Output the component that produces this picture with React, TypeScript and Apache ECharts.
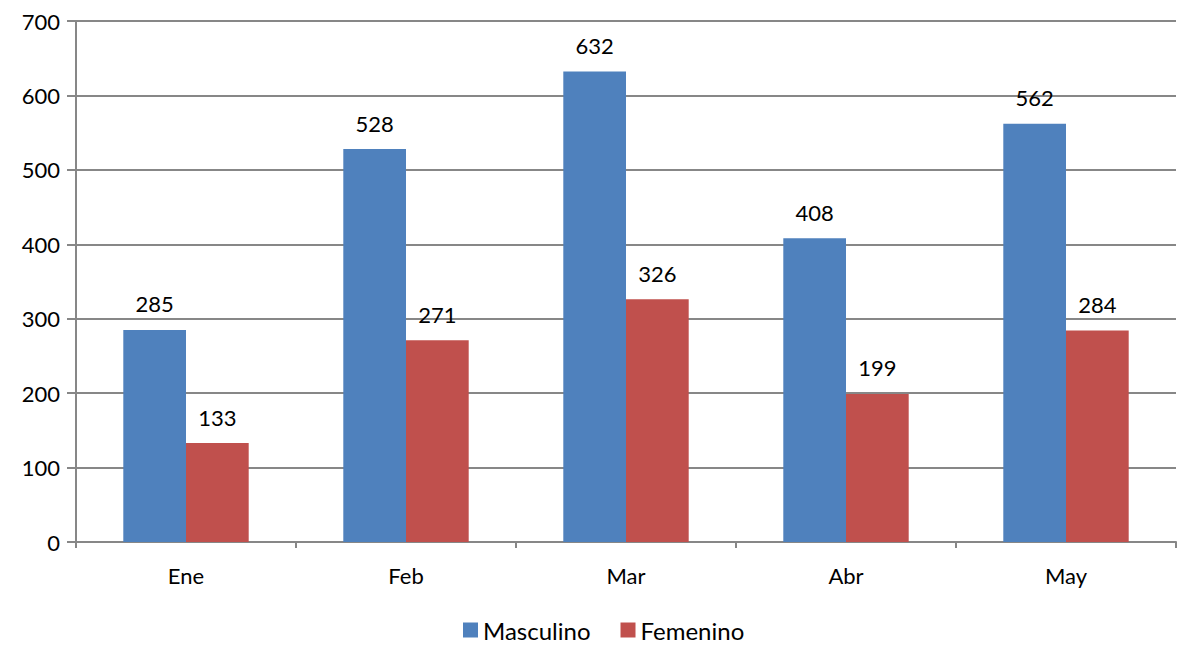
import React, { useEffect, useRef } from "react";
import * as echarts from "echarts";

const categories = ["Ene", "Feb", "Mar", "Abr", "May"];
const masculino = [285, 528, 632, 408, 562];
const femenino = [133, 271, 326, 199, 284];
const seriesNames = ["Masculino", "Femenino"];

export default function App() {
  const ref = useRef<HTMLDivElement>(null);
  useEffect(() => {
    if (!ref.current) return;
    const chart = echarts.init(ref.current, null, { renderer: "svg" });
    const font = "Lato, 'Noto Sans', sans-serif";
    const label = {
      show: true,
      position: "top" as const,
      distance: 15,
      color: "#000",
      fontSize: 22,
      fontFamily: font,
    };
    chart.setOption({
      animation: false,
      textStyle: { fontFamily: font },
      grid: { left: 76, right: 1, top: 21, bottom: 105, containLabel: false },
      legend: {
        bottom: 0,
        left: 458,
        itemWidth: 15,
        itemHeight: 15,
        itemGap: 30,
        icon: "rect",
        textStyle: { fontSize: 24, color: "#000", fontFamily: font },
        data: seriesNames,
      },
      xAxis: {
        type: "category",
        data: categories,
        axisLine: { lineStyle: { color: "#878787", width: 2 } },
        axisTick: { show: true, length: 6, lineStyle: { color: "#878787", width: 2 } },
        axisLabel: { fontSize: 22, color: "#000", margin: 22, fontFamily: font },
      },
      yAxis: {
        type: "value",
        min: 0,
        max: 700,
        interval: 100,
        axisLine: { show: true, lineStyle: { color: "#878787", width: 2 } },
        axisTick: { show: true, length: 9, lineStyle: { color: "#878787", width: 2 } },
        axisLabel: { fontSize: 22, color: "#000", margin: 16, fontFamily: font },
        splitLine: { lineStyle: { color: "#878787", width: 2 } },
      },
      series: [
        {
          name: seriesNames[0],
          type: "bar",
          data: masculino,
          barGap: "0%",
          barCategoryGap: "43%",
          itemStyle: { color: "#4F81BD" },
          label,
        },
        {
          name: seriesNames[1],
          type: "bar",
          data: femenino,
          barGap: "0%",
          barCategoryGap: "43%",
          itemStyle: { color: "#C0504D" },
          label,
        },
      ],
    });
    return () => chart.dispose();
  }, []);
  return <div ref={ref} style={{ width: 1177, height: 647, position: "absolute", left: 0, top: 0 }} />;
}
